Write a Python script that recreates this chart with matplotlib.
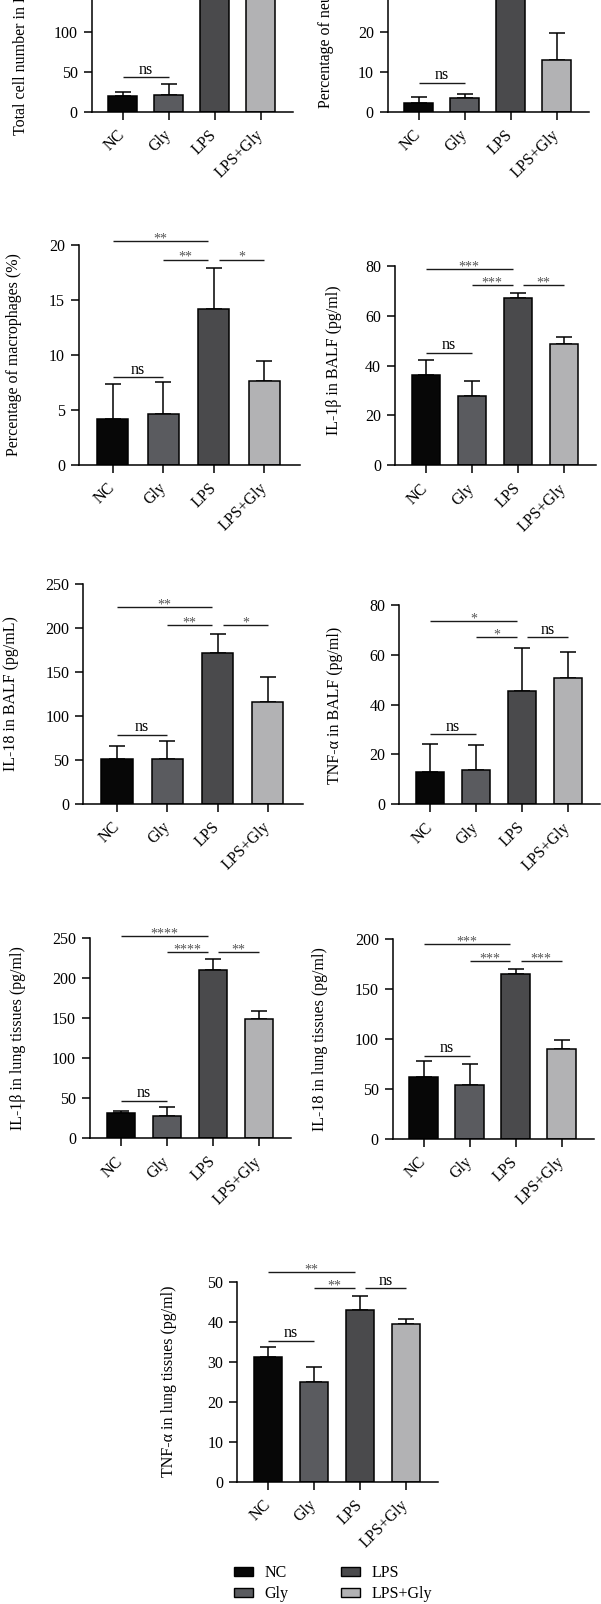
import matplotlib
matplotlib.use("Agg")
import matplotlib.pyplot as plt
from matplotlib.patches import Patch

plt.rcParams['font.family'] = ['Liberation Serif', 'DejaVu Serif']

groups = ["NC", "Gly", "LPS", "LPS+Gly"]
colors = ["#070707", "#5a5b5f", "#4a4a4c", "#b2b2b4"]

# bar means and upper error (SD) for each panel
total_mean = [20.0, 20.8, 200.0, 180.0]
total_err = [5.4, 14.6, 30.0, 25.0]
neut_mean = [2.25, 3.35, 38.0, 12.9]
neut_err = [1.5, 1.05, 6.0, 6.85]
macro_mean = [4.15, 4.67, 14.2, 7.67]
macro_err = [3.18, 2.88, 3.7, 1.83]
il1b_balf_mean = [36.2, 27.8, 66.9, 48.5]
il1b_balf_err = [6.1, 5.8, 2.3, 3.0]
il18_balf_mean = [50.8, 51.5, 171.2, 116.3]
il18_balf_err = [15.5, 20.1, 22.4, 28.4]
tnf_balf_mean = [12.8, 13.8, 45.5, 50.6]
tnf_balf_err = [11.5, 10.1, 17.4, 10.7]
il1b_lung_mean = [31.25, 27.9, 210.4, 149.2]
il1b_lung_err = [3.35, 11.7, 14.2, 10.4]
il18_lung_mean = [62.0, 53.7, 164.7, 90.0]
il18_lung_err = [16.3, 21.3, 5.3, 9.3]
tnf_lung_mean = [31.1, 25.0, 42.9, 39.4]
tnf_lung_err = [2.6, 3.8, 3.6, 1.4]

# significance brackets: (i, j, y, label)
total_sig = [(0, 1, 43.4, "ns")]
neut_sig = [(0, 1, 7.25, "ns")]
macro_sig = [(0, 1, 8.0, "ns"), (0, 2, 20.36, "**"), (1, 2, 18.67, "**"), (2, 3, 18.67, "*")]
il1b_balf_sig = [(0, 1, 45.1, "ns"), (0, 2, 78.6, "***"), (1, 2, 72.1, "***"), (2, 3, 72.1, "**")]
il18_balf_sig = [(0, 1, 78.8, "ns"), (0, 2, 223.9, "**"), (1, 2, 203.4, "**"), (2, 3, 203.4, "*")]
tnf_balf_sig = [(0, 1, 28.1, "ns"), (0, 2, 73.7, "*"), (1, 2, 67.0, "*"), (2, 3, 67.0, "ns")]
il1b_lung_sig = [(0, 1, 47.1, "ns"), (0, 2, 253.3, "****"), (1, 2, 232.9, "****"), (2, 3, 232.9, "**")]
il18_lung_sig = [(0, 1, 83.3, "ns"), (0, 2, 194.7, "***"), (1, 2, 178.3, "***"), (2, 3, 178.3, "***")]
tnf_lung_sig = [(0, 1, 35.2, "ns"), (0, 2, 52.5, "**"), (1, 2, 48.4, "**"), (2, 3, 48.4, "ns")]

W, H = 601, 1604
fig = plt.figure(figsize=(W / 100, H / 100), dpi=100)


def panel(spine_x, spacing, y0, ytop, ymax, step, means, errs, sigs, ylabel, lab_x, lab_y, lab_va='center'):
    width = 4.37 * spacing
    ax = fig.add_axes([spine_x / W, 1 - y0 / H, width / W, (y0 - ytop) / H])
    x = list(range(len(groups)))
    ax.errorbar(x, means, yerr=[[0] * 4, errs], fmt='none', ecolor='black',
                elinewidth=1.1, capsize=5.5, capthick=1.1, zorder=1)
    ax.bar(x, means, width=0.62, color=colors, edgecolor='black', linewidth=1.1, zorder=2)
    ax.set_xlim(-0.67, 3.7)
    ax.set_ylim(0, ymax)
    ax.set_yticks([v * step for v in range(int(round(ymax / step)) + 1)])
    ax.set_xticks(x)
    ax.set_xticklabels(groups, rotation=45, ha='right', va='center', rotation_mode='anchor')
    for s in ['top', 'right']:
        ax.spines[s].set_visible(False)
    for s in ['left', 'bottom']:
        ax.spines[s].set_linewidth(1.1)
    ax.tick_params(direction='out', length=6, width=1.1, labelsize=11.5, pad=4)
    ax.tick_params(axis='x', pad=9)
    for i, j, y, lab in sigs:
        a = i + 0.11 if i == 2 else i
        b = j - 0.11 if j == 2 else j
        ax.plot([a, b], [y, y], color='#1a1a1a', lw=1.0, solid_capstyle='butt', clip_on=False)
        if lab == "ns":
            ax.annotate(lab, ((a + b) / 2, y), xytext=(0, 2.5), textcoords='offset points',
                        ha='center', va='baseline', fontsize=11.5, annotation_clip=False)
        else:
            ax.annotate(lab, ((a + b) / 2, y), xytext=(0, -1), textcoords='offset points',
                        ha='center', va='baseline', fontsize=10, color='#555555',
                        annotation_clip=False)
    fig.text(lab_x / W, 1 - lab_y / H, ylabel, rotation=90, ha='center', va=lab_va, fontsize=11.5)
    return ax


panel(91.7, 46, 112, -88, 250, 50, total_mean, total_err, total_sig,
      "Total cell number in BALF (×10⁴/ml)", 20.7, 135, 'bottom')
panel(387.7, 46, 111.7, -88.3, 50, 10, neut_mean, neut_err, neut_sig,
      "Percentage of neutrophils (%)", 325.8, 108.3, 'bottom')
panel(79, 50.5, 465, 245, 20, 5, macro_mean, macro_err, macro_sig,
      "Percentage of macrophages (%)", 14, 355)
panel(395, 46, 465.3, 265.7, 80, 20, il1b_balf_mean, il1b_balf_err, il1b_balf_sig,
      "IL-1β in BALF (pg/ml)", 334, 360)
panel(83.3, 50.3, 804, 584, 250, 50, il18_balf_mean, il18_balf_err, il18_balf_sig,
      "IL-18 in BALF (pg/mL)", 11, 694)
panel(399.3, 46, 804.3, 605, 80, 20, tnf_balf_mean, tnf_balf_err, tnf_balf_sig,
      "TNF-α in BALF (pg/ml)", 335, 705)
panel(90, 46, 1138.3, 938.3, 250, 50, il1b_lung_mean, il1b_lung_err, il1b_lung_sig,
      "IL-1β in lung tissues (pg/ml)", 18, 1038)
panel(392.7, 46, 1139, 939, 200, 50, il18_lung_mean, il18_lung_err, il18_lung_sig,
      "IL-18 in lung tissues (pg/ml)", 320, 1039)
panel(237.3, 46, 1481.7, 1281.7, 50, 10, tnf_lung_mean, tnf_lung_err, tnf_lung_sig,
      "TNF-α in lung tissues (pg/ml)", 169, 1381)

handles = [Patch(facecolor=c, edgecolor='black', linewidth=1.0) for c in colors]
fig.legend(handles, groups, ncol=2, loc='upper left', bbox_to_anchor=(234 / W, 1 - 1565 / H),
           frameon=False, fontsize=11.5, handlelength=1.2, handleheight=0.5,
           handletextpad=0.7, columnspacing=3.3, labelspacing=0.3, borderpad=0, borderaxespad=0)

fig.savefig("out.png", dpi=100)
